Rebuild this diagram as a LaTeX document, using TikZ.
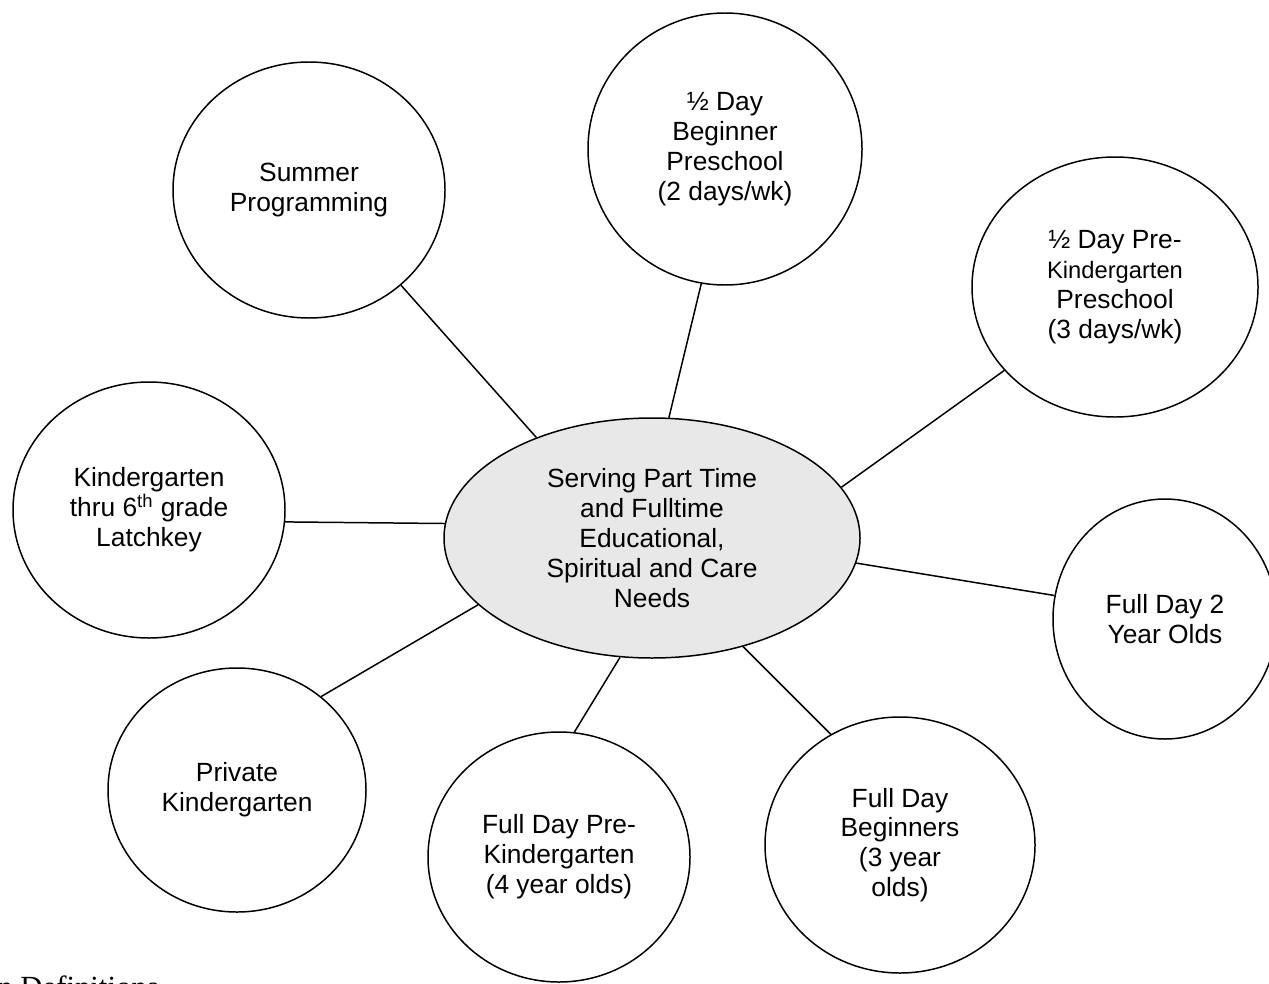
\documentclass[tikz,border=0pt]{standalone}
\usepackage{fontspec}
\setmainfont{Liberation Sans}
\newfontfamily\serifdoc{Liberation Serif}
\usetikzlibrary{shapes.geometric}
\definecolor{hubgray}{RGB}{232,232,232}
\tikzset{
  bubble/.style={ellipse, draw=black, line width=0.85pt, inner sep=0pt, align=center, font=\fontsize{15}{17}\selectfont},
  link/.style={line width=0.85pt}
}
\begin{document}
\begin{tikzpicture}
\useasboundingbox (0,0) rectangle (25.38,-19.66);
\node[bubble, fill=hubgray, minimum width=8.32cm, minimum height=4.8cm] (hub) at (13.04,-10.76) {Serving Part Time\\and Fulltime\\Educational,\\Spiritual and Care\\Needs};
\node[bubble, minimum width=5.44cm, minimum height=5.12cm] (summer) at (6.18,-3.80) {Summer\\Programming};
\node[bubble, minimum width=5.48cm, minimum height=5.44cm] (halfbeg) at (14.50,-2.98) {½ Day\\Beginner\\Preschool\\(2 days/wk)};
\node[bubble, minimum width=5.72cm, minimum height=5.20cm] (halfprek) at (22.30,-5.74) {½ Day Pre-\\{\fontsize{13.5}{17}\selectfont Kindergarten}\\Preschool\\(3 days/wk)};
\node[bubble, minimum width=5.44cm, minimum height=5.12cm] (latch) at (2.98,-10.20) {Kindergarten\\thru 6\textsuperscript{th} grade\\Latchkey};
\node[bubble, minimum width=4.48cm, minimum height=4.80cm] (twoyr) at (23.30,-12.38) {Full Day 2\\Year Olds};
\node[bubble, minimum width=5.40cm, minimum height=5.12cm] (beginners) at (18.00,-16.90) {Full Day\\Beginners\\(3 year\\olds)};
\node[bubble, minimum width=5.24cm, minimum height=5.00cm] (prek) at (11.18,-17.14) {Full Day Pre-\\Kindergarten\\(4 year olds)};
\node[bubble, minimum width=5.16cm, minimum height=4.88cm] (private) at (4.74,-15.80) {Private\\Kindergarten};
\draw[link] (summer.-46.8)--(hub.139.7);
\draw[link] (halfbeg.260)--(hub.82.7);
\draw[link] (halfprek.217.5)--(hub.15.4);
\draw[link] (twoyr.168.9)--(hub.-7.4);
\draw[link] (beginners.122)--(hub.-50.3);
\draw[link] (prek.83.6)--(hub.-105.1);
\draw[link] (private.48)--(hub.201);
\draw[link] (latch.-5.9)--(hub.176.1);
\node[anchor=base west, inner sep=0pt, font=\serifdoc\fontsize{17.5}{20}\selectfont] (defs) at (-0.06,-19.94) {n Definitions};
\end{tikzpicture}
\end{document}
